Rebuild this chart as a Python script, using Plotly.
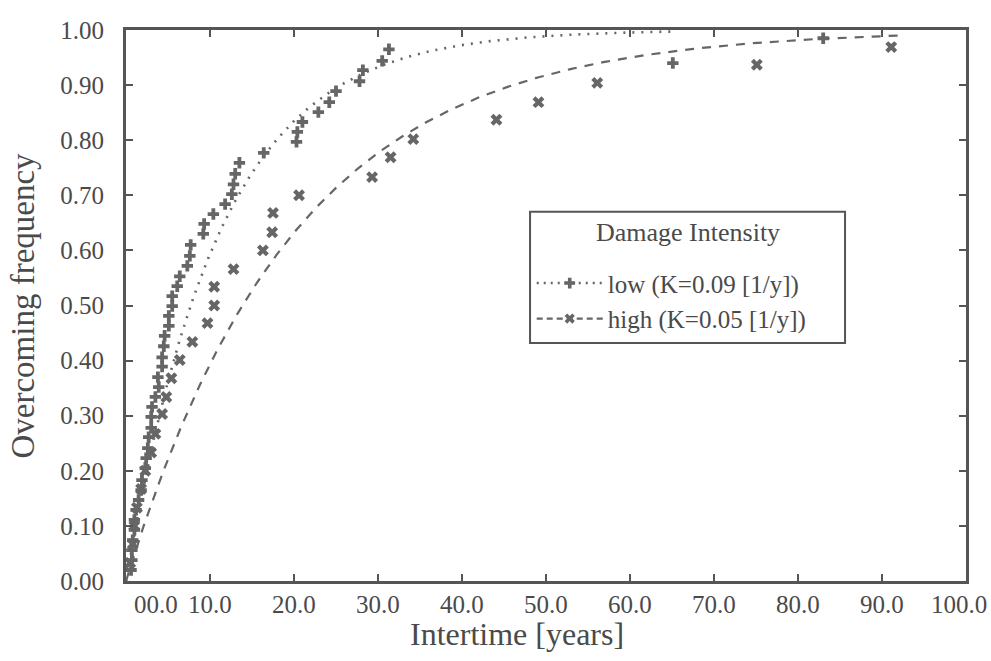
import numpy as np
import plotly.graph_objects as go

# Observed overcoming frequencies vs. intertime, low damage intensity
low_t = [0.6, 0.7, 0.7, 0.8, 1.0, 1.0, 1.2, 1.5, 1.8, 1.9, 2.3, 2.4, 2.6, 2.7,
         3.0, 3.0, 3.1, 3.5, 3.9, 3.8, 4.3, 4.3, 4.5, 4.6, 5.1, 5.1, 5.5, 5.5,
         6.1, 6.4, 7.3, 7.6, 7.7, 9.2, 9.3, 10.4, 11.8, 12.6, 12.8, 13.0, 13.5,
         16.4, 20.3, 20.4, 21.0, 22.9, 24.2, 25.0, 27.8, 28.2, 30.5, 31.3,
         65.1, 83.0]
low_f = [0.020, 0.038, 0.056, 0.074, 0.093, 0.111, 0.129, 0.147, 0.165, 0.183,
         0.205, 0.223, 0.241, 0.261, 0.278, 0.298, 0.316, 0.334, 0.352, 0.370,
         0.389, 0.406, 0.426, 0.445, 0.463, 0.481, 0.499, 0.517, 0.535, 0.553,
         0.572, 0.590, 0.610, 0.630, 0.648, 0.666, 0.684, 0.702, 0.720, 0.739,
         0.759, 0.777, 0.797, 0.815, 0.833, 0.851, 0.869, 0.889, 0.907, 0.927,
         0.944, 0.965, 0.940, 0.985]

# Observed overcoming frequencies vs. intertime, high damage intensity
high_t = [0.5, 0.8, 1.0, 1.3, 1.8, 2.3, 3.0, 3.5, 4.3, 4.8, 5.4, 6.4, 7.9, 9.7,
          10.5, 10.5, 12.8, 16.3, 17.4, 17.5, 20.6, 29.3, 31.5, 34.2, 44.1,
          49.1, 56.1, 75.1, 91.1]
high_f = [0.033, 0.067, 0.100, 0.133, 0.167, 0.200, 0.233, 0.267, 0.303, 0.334,
          0.368, 0.401, 0.434, 0.468, 0.500, 0.534, 0.566, 0.600, 0.633, 0.668,
          0.700, 0.733, 0.769, 0.802, 0.837, 0.869, 0.904, 0.937, 0.969]

# Exponential model rates [1/y]
K_LOW = 0.09
K_HIGH = 0.05

x_ticks = [0, 10, 20, 30, 40, 50, 60, 70, 80, 90, 100]
x_tick_labels = ["00.0", "10.0", "20.0", "30.0", "40.0", "50.0",
                 "60.0", "70.0", "80.0", "90.0", "100.0"]
y_ticks = [0.0, 0.1, 0.2, 0.3, 0.4, 0.5, 0.6, 0.7, 0.8, 0.9, 1.0]
y_tick_labels = ["0.00", "0.10", "0.20", "0.30", "0.40", "0.50",
                 "0.60", "0.70", "0.80", "0.90", "1.00"]

SERIF = "Liberation Serif, Times New Roman, serif"
INK = "#4a4a4a"
FRAME = "#555555"
MARK = "#666666"
CURVE = "#666666"

LOW_DASH = "2px,7px"
HIGH_DASH = "9px,8px"

# Model curves F(t) = 1 - exp(-K t)
t_low = np.linspace(0, 65, 400)
t_high = np.linspace(0, 92, 400)

fig = go.Figure()

fig.add_trace(go.Scatter(
    x=t_low, y=1 - np.exp(-K_LOW * t_low), mode="lines",
    line=dict(color=CURVE, width=2.6, dash=LOW_DASH),
    showlegend=False, hoverinfo="skip"))
fig.add_trace(go.Scatter(
    x=t_high, y=1 - np.exp(-K_HIGH * t_high), mode="lines",
    line=dict(color=CURVE, width=2.2, dash=HIGH_DASH),
    showlegend=False, hoverinfo="skip"))

fig.add_trace(go.Scatter(
    x=low_t, y=low_f, mode="markers",
    marker=dict(symbol="cross", size=9.5, color=MARK),
    showlegend=False))
fig.add_trace(go.Scatter(
    x=high_t, y=high_f, mode="markers",
    marker=dict(symbol="x", size=10.5, color=MARK),
    showlegend=False))

# Legend entries (marker + line style)
fig.add_trace(go.Scatter(
    x=[None], y=[None], mode="lines+markers", name="low (K=0.09 [1/y])",
    marker=dict(symbol="cross", size=9, color=MARK),
    line=dict(color=CURVE, width=2.6, dash="2px,5px")))
fig.add_trace(go.Scatter(
    x=[None], y=[None], mode="lines+markers", name="high (K=0.05 [1/y])",
    marker=dict(symbol="x", size=9, color=MARK),
    line=dict(color=CURVE, width=2.2, dash="6px,4px")))

axis_common = dict(
    showgrid=False, zeroline=False, showline=True, linewidth=3,
    linecolor=FRAME, mirror="ticks", ticks="inside", ticklen=7,
    tickwidth=2, tickcolor=FRAME)

fig.update_xaxes(range=[0, 100], tickvals=x_ticks, showticklabels=False,
                 **axis_common)
fig.update_yaxes(range=[0, 1], tickvals=y_ticks, ticktext=y_tick_labels,
                 tickfont=dict(family=SERIF, size=25, color=INK),
                 ticklabelstandoff=14, **axis_common)

annotations = []
for i, (v, lab) in enumerate(zip(x_ticks, x_tick_labels)):
    shift = 0
    if i == 0:
        shift = 30
    elif i == len(x_ticks) - 1:
        shift = -7
    annotations.append(dict(
        x=v, y=0, xref="x", yref="paper", text=lab, showarrow=False,
        xanchor="center", yanchor="top", xshift=shift, yshift=-8,
        font=dict(family=SERIF, size=25, color=INK)))

annotations.append(dict(
    x=0.4655, y=0, xref="paper", yref="paper", text="Intertime [years]",
    showarrow=False, xanchor="center", yanchor="middle", yshift=-53,
    font=dict(family=SERIF, size=32, color=INK)))
annotations.append(dict(
    x=0, y=0.5, xref="paper", yref="paper", text="Overcoming frequency",
    showarrow=False, xanchor="center", yanchor="middle", xshift=-104,
    textangle=-90, font=dict(family=SERIF, size=33, color=INK)))

# Legend frame and heading
LEG_X0, LEG_X1 = 0.481, 0.856
LEG_Y0, LEG_Y1 = 0.432, 0.670
annotations.append(dict(
    x=(LEG_X0 + LEG_X1) / 2, y=0.632, xref="paper", yref="paper",
    text="Damage Intensity", showarrow=False, xanchor="center",
    yanchor="middle", font=dict(family=SERIF, size=26, color=INK)))

fig.update_layout(
    width=991, height=661,
    margin=dict(l=126, r=25, t=30, b=80),
    paper_bgcolor="white", plot_bgcolor="white",
    font=dict(family=SERIF, color=INK),
    annotations=annotations,
    shapes=[dict(type="rect", xref="paper", yref="paper",
                 x0=LEG_X0, x1=LEG_X1, y0=LEG_Y0, y1=LEG_Y1,
                 line=dict(color=FRAME, width=2), fillcolor="white",
                 layer="above")],
    legend=dict(
        x=0.483, y=0.582, xanchor="left", yanchor="top",
        bgcolor="rgba(0,0,0,0)", borderwidth=0,
        font=dict(family=SERIF, size=25, color=INK),
        itemwidth=66, tracegroupgap=0),
)

fig.write_html("out.html")
